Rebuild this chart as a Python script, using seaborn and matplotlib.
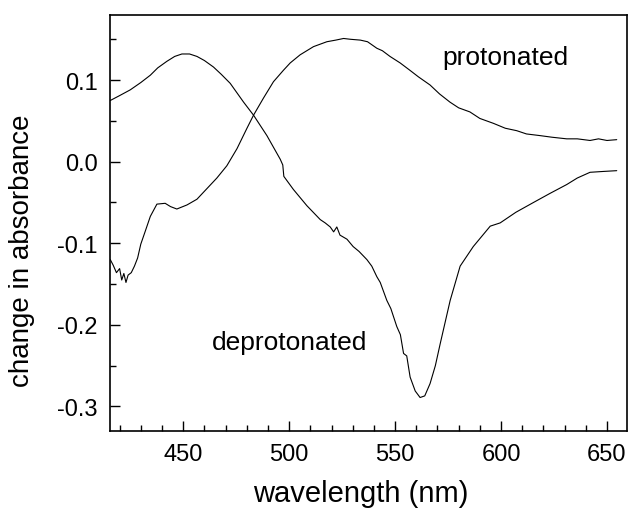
import numpy as np
import pandas as pd
import matplotlib
matplotlib.use("Agg")
import matplotlib.pyplot as plt
import seaborn as sns
from matplotlib.ticker import MultipleLocator, FormatStrFormatter

# DATOS
wl_prot = [415.6, 417, 418.5, 420, 421, 422, 423, 424, 425.5, 427, 428.5, 430, 432,
           434.5, 437.6, 441.5, 444, 447, 451.8, 456.5, 461.2, 465.9, 470.6,
           475.4, 480.1, 483.2, 487.9, 492.6, 497.3, 500.5, 505.2, 511.5, 517.8,
           522, 525.7, 529, 533.6, 537, 541.4, 544, 547.6, 552.4, 557, 561,
           566.5, 571, 575.9, 580, 585.3, 590, 596.4, 602, 607.4, 612, 618.3,
           624, 631, 636, 642, 646, 650, 654.6]
abs_prot = [-0.120, -0.127, -0.136, -0.131, -0.145, -0.137, -0.148, -0.139, -0.136,
            -0.128, -0.118, -0.101, -0.086, -0.067, -0.052, -0.051, -0.055,
            -0.058, -0.053, -0.046, -0.033, -0.020, -0.005, 0.016, 0.041, 0.057,
            0.078, 0.098, 0.112, 0.121, 0.131, 0.141, 0.147, 0.149, 0.151, 0.150,
            0.149, 0.147, 0.139, 0.136, 0.129, 0.121, 0.112, 0.104, 0.094, 0.083,
            0.073, 0.066, 0.061, 0.053, 0.047, 0.041, 0.038, 0.034, 0.032, 0.030,
            0.028, 0.028, 0.026, 0.028, 0.026, 0.027]

wl_deprot = [415.6, 420, 425, 430, 434.5, 438, 442.3, 446, 449.4, 453, 456.5, 460,
             464.3, 468, 472.2, 478.5, 483.2, 489.5, 495.8, 497, 497.5, 502, 508.4,
             511, 514.7, 517, 519.4, 521, 522.5, 524, 527.3, 530.2, 533, 536.7,
             539, 541.4, 543, 546.1, 548, 550.8, 552.5, 554, 555.5, 557.1, 559.5,
             561.8, 564, 566.5, 569, 571.3, 576, 580.7, 586.9, 594.9, 599.6, 607,
             615.3, 623, 631, 636, 642, 648, 654.6]
abs_deprot = [0.075, 0.081, 0.088, 0.097, 0.106, 0.115, 0.123, 0.129, 0.132, 0.132,
              0.129, 0.124, 0.116, 0.107, 0.096, 0.073, 0.057, 0.032, 0.003, -0.004,
              -0.018, -0.034, -0.054, -0.061, -0.071, -0.075, -0.080, -0.086,
              -0.080, -0.090, -0.095, -0.104, -0.110, -0.120, -0.128, -0.141,
              -0.148, -0.170, -0.180, -0.202, -0.212, -0.235, -0.238, -0.264,
              -0.281, -0.289, -0.287, -0.272, -0.250, -0.223, -0.170, -0.128,
              -0.104, -0.079, -0.075, -0.062, -0.050, -0.039, -0.028, -0.020,
              -0.013, -0.012, -0.011]

df_prot = pd.DataFrame({"wavelength": wl_prot, "absorbance": abs_prot})
df_deprot = pd.DataFrame({"wavelength": wl_deprot, "absorbance": abs_deprot})

sns.set_style("ticks")
plt.rcParams['font.family'] = ['Liberation Sans', 'DejaVu Sans']
plt.rcParams['axes.unicode_minus'] = False
plt.rcParams['text.color'] = 'black'
plt.rcParams['axes.labelcolor'] = 'black'
plt.rcParams['xtick.color'] = 'black'
plt.rcParams['ytick.color'] = 'black'

fig = plt.figure(figsize=(6.29, 5.10), dpi=100)
ax = fig.add_axes([0.175, 0.153, 0.822, 0.816])

sns.lineplot(ax=ax, data=df_prot, x="wavelength", y="absorbance",
             color="black", linewidth=0.8, sort=False, estimator=None)
sns.lineplot(ax=ax, data=df_deprot, x="wavelength", y="absorbance",
             color="black", linewidth=0.8, sort=False, estimator=None)

ax.set_xlim(415.5, 659.5)
ax.set_ylim(-0.33, 0.18)
ax.xaxis.set_major_locator(MultipleLocator(50))
ax.xaxis.set_minor_locator(MultipleLocator(10))
ax.yaxis.set_major_locator(MultipleLocator(0.1))
ax.yaxis.set_minor_locator(MultipleLocator(0.05))
ax.yaxis.set_major_formatter(FormatStrFormatter('%.1f'))
ax.tick_params(which='major', direction='in', length=7, width=1, labelsize=17, pad=9)
ax.tick_params(which='minor', direction='in', length=4, width=1)
for s in ax.spines.values():
    s.set_linewidth(1.2)
    s.set_color('black')

ax.set_xlabel('wavelength (nm)', fontsize=21)
ax.set_ylabel('change in absorbance', fontsize=20)
ax.xaxis.label.set_va('center')
ax.yaxis.label.set_va('center')
ax.xaxis.set_label_coords(0.485, -0.148)
ax.yaxis.set_label_coords(-0.170, 0.435)

ax.text(602, 0.128, 'protonated', fontsize=19, ha='center', va='center')
ax.text(500, -0.221, 'deprotonated', fontsize=19, ha='center', va='center')

fig.savefig('out.png', dpi=100, facecolor='white')
